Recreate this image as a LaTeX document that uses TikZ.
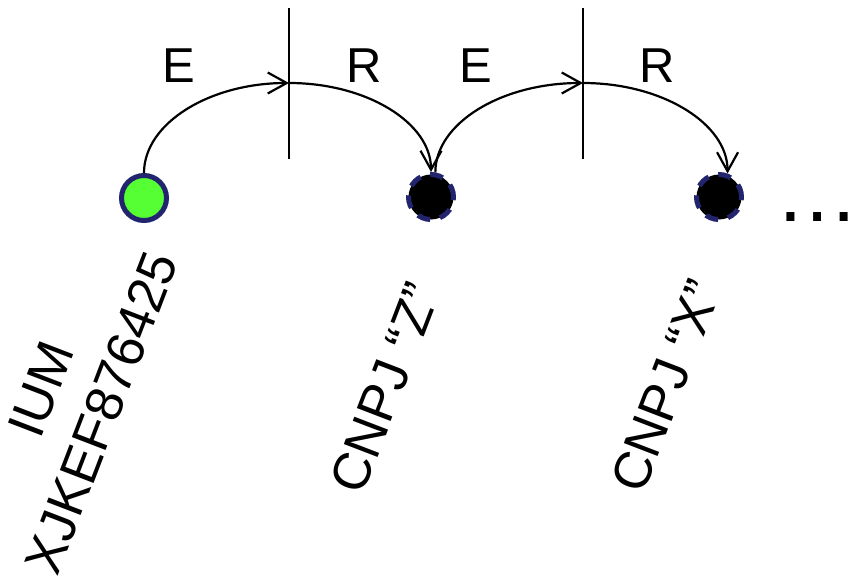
\documentclass[tikz,border=0pt]{standalone}
\usepackage{fontspec}
\setmainfont{Liberation Sans}
\usetikzlibrary{arrows.meta}
\definecolor{navy}{RGB}{35,36,110}
\definecolor{brightgreen}{RGB}{85,255,51}
\begin{document}
\begin{tikzpicture}[x=1pt,y=-1pt,
  dot/.style={circle,minimum size=45pt,inner sep=0pt,line width=5pt,draw=navy},
  startdot/.style={dot,fill=brightgreen},
  linkdot/.style={dot,fill=black,dash pattern=on 13pt off 10pt},
  flow/.style={line width=2.2pt,-{Straight Barb[length=19pt,width=21pt]}},
  divider/.style={line width=1.6pt},
  lbl/.style={font=\fontsize{49}{59}\selectfont,inner sep=0pt},
  rlbl/.style={font=\fontsize{52.5}{65}\selectfont,inner sep=0pt,rotate=69,align=center}
]
\useasboundingbox[fill=white] (0,0) rectangle (848,580);

% dividers
\coordinate (t1) at (289,8);
\coordinate (d1) at (289,159);
\coordinate (t2) at (583,8);
\coordinate (d2) at (583,159);
\draw[divider] (t1) -- (d1);
\draw[divider] (t2) -- (d2);

% nodes
\node[startdot] (g) at (144,198) {};
\node[linkdot] (b1) at (431,197) {};
\node[linkdot] (b2) at (719,197) {};

\coordinate (apex1) at (289,83);
\coordinate (apex2) at (583,83);

% arcs
\draw[flow] (g.north) .. controls +(0,-50) and +(-79,0) .. (apex1);
\draw[flow] (apex1) .. controls +(78,0) and +(0,-49) .. (b1.north);
\draw[flow] (b1.80) .. controls +(0,-49) and +(-82,0) .. (apex2);
\draw[flow] (apex2) .. controls +(79,0) and +(0,-50) .. (b2.70);

% labels
\node[lbl] (e1) at (179,66) {E};
\node[lbl] (r1) at (364,66) {R};
\node[lbl] (e2) at (476,66) {E};
\node[lbl] (r2) at (657,66) {R};

\node[rlbl] (id) at (71.5,401) {IUM\\XJKEF876425};
\node[rlbl] (cz) at (385,388) {CNPJ “Z”};
\node[rlbl] (cx) at (666,386) {CNPJ “X”};

\node[font=\fontsize{84}{84}\selectfont,inner sep=0pt,anchor=base west] (more) at (775,221.5) {…};
\end{tikzpicture}
\end{document}
